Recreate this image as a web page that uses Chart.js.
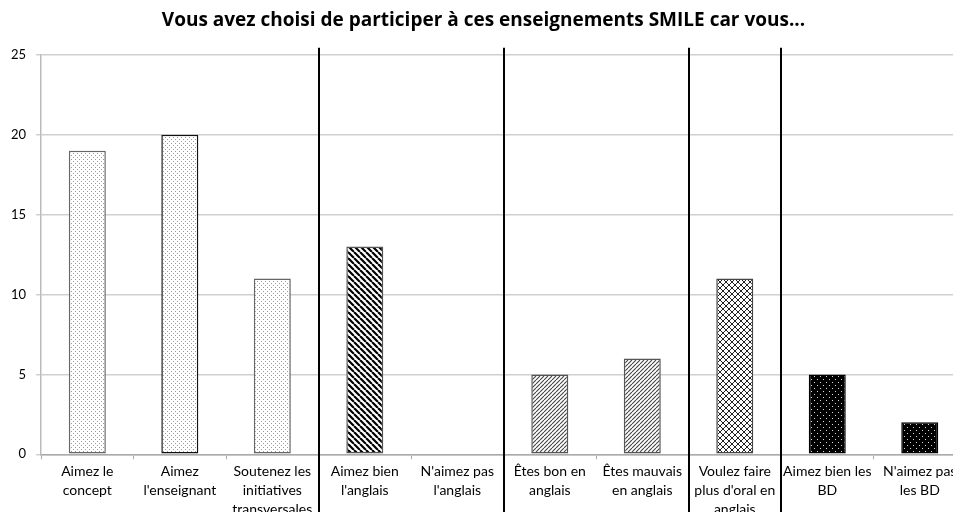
<!DOCTYPE html>
<html>
<head>
<meta charset="utf-8">
<script src="https://cdn.jsdelivr.net/npm/chart.js@4/dist/chart.umd.min.js"></script>
<style>
  html, body { margin: 0; padding: 0; background: #fff; overflow: hidden; }
  #wrap { position: relative; width: 966px; height: 522px; }
</style>
</head>
<body>
<div id="wrap"><canvas id="c"></canvas></div>
<script>
const titleText = "Vous avez choisi de participer à ces enseignements SMILE car vous...";
const categories = [
  ["Aimez le", "concept"],
  ["Aimez", "l'enseignant"],
  ["Soutenez les", "initiatives", "transversales"],
  ["Aimez bien", "l'anglais"],
  ["N'aimez pas", "l'anglais"],
  ["Êtes bon en", "anglais"],
  ["Êtes mauvais", "en anglais"],
  ["Voulez faire", "plus d'oral en", "anglais"],
  ["Aimez bien les", "BD"],
  ["N'aimez pas", "les BD"]
];
const values = [19, 20, 11, 13, 0, 5, 6, 11, 5, 2];
const patternKinds = ["dots", "dots", "dots", "wideDiag", "wideDiag", "fineDiag", "fineDiag", "cross", "blackDots", "blackDots"];
const borderColors = ["#666", "#111", "#666", "#555", "#555", "#555", "#555", "#444", "#000", "#000"];
const separatorsAfter = [2, 4, 6, 7];
const yMin = 0, yMax = 25, yStep = 5;

function makePattern(kind) {
  const s = (kind === "fineDiag") ? 4 : (kind === "dots" ? 4 : 6);
  const c = document.createElement("canvas");
  c.width = s; c.height = s;
  const g = c.getContext("2d");
  if (kind === "blackDots") {
    g.fillStyle = "#000"; g.fillRect(0, 0, s, s);
    g.fillStyle = "#d8d8d8";
    g.fillRect(1, 1, 1, 1); g.fillRect(4, 4, 1, 1);
  } else {
    g.fillStyle = "#fff"; g.fillRect(0, 0, s, s);
    if (kind === "dots") {
      g.fillStyle = "#9a9a9a";
      g.fillRect(1, 1, 1, 1); g.fillRect(3, 3, 1, 1);
    } else if (kind === "wideDiag") {
      g.strokeStyle = "#000"; g.lineWidth = 2.2;
      g.beginPath();
      for (let k = -s; k <= s; k += s) { g.moveTo(k, 0); g.lineTo(k + s, s); }
      g.stroke();
    } else if (kind === "fineDiag") {
      g.strokeStyle = "#444"; g.lineWidth = 1.1;
      g.beginPath();
      for (let k = -s; k <= s; k += s) { g.moveTo(k, s); g.lineTo(k + s, 0); }
      g.stroke();
    } else if (kind === "cross") {
      g.strokeStyle = "#222"; g.lineWidth = 1;
      g.beginPath();
      for (let k = -s; k <= s; k += s) {
        g.moveTo(k, 0); g.lineTo(k + s, s);
        g.moveTo(k, s); g.lineTo(k + s, 0);
      }
      g.stroke();
    }
  }
  const ctx = document.getElementById("c").getContext("2d");
  return ctx.createPattern(c, "repeat");
}

const fills = patternKinds.map(makePattern);

const separatorPlugin = {
  id: "separators",
  afterDraw(chart) {
    const x = chart.scales.x;
    const ctx = chart.ctx;
    ctx.save();
    ctx.strokeStyle = "#000";
    ctx.lineWidth = 2;
    separatorsAfter.forEach(i => {
      const px = Math.round((x.getPixelForValue(i) + x.getPixelForValue(i + 1)) / 2);
      ctx.beginPath();
      ctx.moveTo(px, chart.chartArea.top - 7);
      ctx.lineTo(px, chart.height);
      ctx.stroke();
    });
    ctx.restore();
  }
};

new Chart(document.getElementById("c"), {
  type: "bar",
  data: {
    labels: categories,
    datasets: [{
      data: values,
      backgroundColor: fills,
      borderColor: borderColors,
      borderWidth: 1.5,
      borderSkipped: false,
      barPercentage: 0.4,
      categoryPercentage: 1.0
    }]
  },
  options: {
    responsive: true,
    maintainAspectRatio: false,
    animation: false,
    layout: { padding: { left: 1, right: 0, top: 0, bottom: 0 } },
    plugins: {
      legend: { display: false },
      tooltip: { enabled: false },
      title: {
        display: true,
        text: titleText,
        color: "#000",
        font: { family: "Open Sans", size: 19, weight: "bold" },
        padding: { top: 9, bottom: 23 }
      }
    },
    scales: {
      x: {
        grid: { display: true, drawOnChartArea: false, tickLength: 5, color: "#aaa", offset: true },
        border: { color: "#aaa", width: 1.5 },
        ticks: {
          color: "#000",
          font: { family: "Lato", size: 14, lineHeight: 1.35 },
          maxRotation: 0, minRotation: 0, autoSkip: false, padding: 3
        }
      },
      y: {
        min: yMin, max: yMax,
        grid: { color: "#d0d0d0", lineWidth: 1.5, tickLength: 5 },
        border: { color: "#bbb", width: 1.5 },
        ticks: {
          stepSize: yStep,
          color: "#000",
          font: { family: "Lato", size: 13 },
          padding: 10
        }
      }
    }
  },
  plugins: [separatorPlugin]
});
</script>
</body>
</html>
